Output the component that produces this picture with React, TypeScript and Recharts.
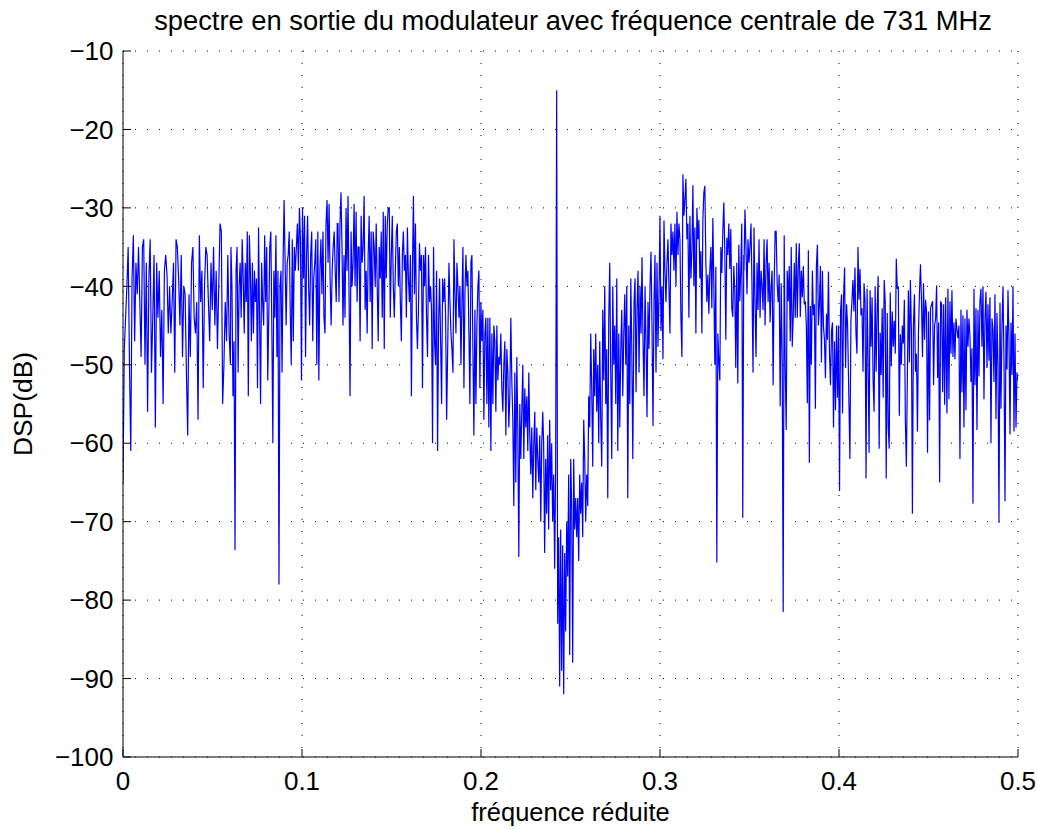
import React from 'react';
import { LineChart, Line, XAxis, YAxis, CartesianGrid } from 'recharts';

// Power spectral density (dB), in consecutive frequency bands.
const band1 = [-65, -48, -44, -40, -35, -50, -61, -39, -33.5, -47, -37, -41, -35, -42, -49, -35, -34, -50, -37, -56, -39, -34, -51, -44, -36, -58, -37, -44, -38, -49, -43, -55, -38, -36, -38.5, -46, -40, -46, -42, -37, -51, -34, -35, -39, -45, -36, -49, -40, -41, -51, -59, -41, -49, -37, -35, -44, -46, -42, -57, -33.5, -42, -38, -53, -40, -35, -36, -42, -47, -37, -43, -35, -45, -38, -48, -40, -32, -33, -55, -50, -42, -47, -36, -46, -50];
const band2 = [-35, -40, -54, -47, -73.6, -38, -35, -51, -40, -37, -44, -34, -39, -46, -37, -42, -33, -54, -33.5, -38, -47, -37, -46, -38, -42, -39, -53, -32.5, -44, -55, -37, -42, -45, -33.5, -42, -35, -52, -44, -35, -33, -45, -60, -38, -44, -33.5, -49, -38, -78, -40, -38, -51, -37, -29, -37, -45, -37, -36, -33, -43, -50, -34, -47, -35, -38, -35, -32, -38, -30, -34, -52, -30, -39, -31, -49, -36, -31, -40, -45, -36, -33, -47, -39, -37, -34, -50, -33, -52, -38, -34, -41, -33, -44, -46, -32, -29, -37, -29.5, -39, -45, -38, -35, -33, -38, -42, -32];
const band3 = [-32, -42, -32, -28, -35, -45, -36, -44, -30, -38, -28.5, -41, -54, -33, -40, -37, -29.5, -40, -30.5, -42, -35, -35, -47, -31, -37, -35, -28.5, -43, -38, -46, -36, -31, -42, -33, -48, -33, -35, -40, -32, -40, -47, -35, -39, -33, -44, -30.5, -48, -31, -39, -32, -30, -30, -44, -36, -31, -40, -44, -38, -33, -32, -40, -35, -42, -47, -36, -33, -38, -36, -44, -32.5, -39, -42, -36, -54, -38, -28.5, -41, -32, -44, -48, -43, -34.5, -38, -36, -53, -36, -40, -35, -44, -49, -36, -42, -40, -43, -60, -35, -47, -50, -38, -61, -45, -39, -47, -55, -39, -42, -39, -44, -57];
const band4 = [-37, -42, -46, -48, -51, -34, -41, -46, -37, -40, -44, -40, -50, -42, -35, -53, -41, -36, -40, -38, -46, -55, -37, -36, -48, -59, -43, -55, -45, -40, -38, -53, -42, -47, -43, -57, -46, -44, -55, -44, -58, -44, -61, -46, -55, -45, -47, -56, -45, -52, -49, -50, -46, -53, -56, -50, -47, -59, -48, -51, -58, -54, -44, -52, -57, -68, -51, -65, -49, -58, -74.5, -55, -62, -56, -50, -62, -53, -58, -54, -61, -51, -59, -64, -58, -67, -60, -56, -66, -58, -62, -65, -59, -70, -60, -56];
const band5 = [-60, -74, -62, -69, -59, -71, -57, -66, -60, -70, -64, -76, -63, -15, -83, -72, -91, -71, -89, -73, -92, -74, -84, -70, -77, -64, -87, -62, -68, -88, -62, -71, -67, -72, -67, -75, -64, -69, -65, -72, -57, -62, -70, -64, -68, -54, -58, -46, -53, -63, -48, -54, -46, -56, -50, -60, -47, -57, -63, -43, -52, -40, -55, -48, -67, -44, -37, -51, -62, -40, -50, -45, -55, -39, -61, -46, -58, -48, -43, -54, -46, -41, -50, -40, -67, -45, -55, -39, -48, -62];
const band6 = [-42, -39, -53.5, -43, -38, -51, -40, -46, -36.3, -47, -54, -40, -47, -56.7, -42, -48, -40, -35.6, -45, -57.8, -42, -36, -51, -37, -47.7, -41, -31, -45.7, -40, -49.3, -31.6, -38, -42, -37, -34, -40, -46, -32, -36, -33, -38, -32, -40, -30.5, -36, -32, -34, -44, -49, -25.7, -31, -29, -26.3, -34, -32, -44, -31, -39, -35.5, -27.1, -40, -32.5, -46, -30, -34, -31.5, -39, -35.5, -46, -31.5, -28, -27.2, -37, -42, -38.5, -43.5, -38, -35, -42.8, -31.3, -40, -50, -37.5, -75.2, -46, -49.5, -52, -35, -38.3, -33, -29.3, -35.6, -46.8, -33.8, -36, -32, -37.8, -32.7, -42.8, -43.9, -37.4, -40.5, -50.4, -37, -52.4, -34.7, -41.9, -38, -32, -69.5, -36];
const band7 = [-38, -30.2, -35, -41, -34, -37, -35, -32, -40, -51, -32.5, -42, -49, -37, -43, -34, -44, -38, -40, -43, -34, -45, -37, -34, -42, -37, -44.6, -40, -38, -52.6, -40, -33, -33, -39.6, -42, -38.5, -55.3, -39.6, -49.3, -81.5, -33.5, -50.4, -58.3, -38, -41.9, -37.4, -47, -35, -47.7, -43.7, -37, -44, -34.5, -44, -37.4, -34.5, -43.9, -38, -41.4, -37.4, -42.3, -41.9, -45, -54.9, -35.4, -62.5, -42.5, -50, -38, -43.7, -42.3, -55.6, -37.4, -34.7, -45, -42.3, -37.4, -49.7, -38, -45, -46.8, -51.7, -43.5, -46.8, -38.1, -48.4, -52.6, -45.7, -44.6, -58, -47, -55.8, -45, -54.2, -45, -66.1, -43.2, -41, -56.2, -41.4, -37.6, -50.4, -42.3, -45];
const band8 = [-62, -44.3, -41.9, -39.2, -43.2, -37.6, -45.9, -48.6, -35, -41.7, -37.8, -43.7, -42.8, -50.9, -39.6, -41.9, -64.5, -40.3, -49.3, -61.2, -40.5, -47.7, -41.4, -52, -56, -40, -50.9, -42.8, -38.7, -60.7, -45.9, -51.3, -42.8, -54.2, -39.2, -41.9, -64.5, -43.4, -58, -60.7, -40.8, -50.2, -43.2, -47.7, -44.4, -48.6, -36.5, -40.3, -40, -56.5, -46.1, -50, -45, -47.3, -41.7, -57.1, -63, -51.3, -40.5, -49.7, -39.2, -45.7, -69, -45, -41, -50.9, -48.6, -58.5, -45.9, -40.8, -37.2, -41.9, -49, -39.6, -46.8, -41.7, -43.2, -61.2, -43.2, -57.1, -42.8, -42.3, -41.9, -52.6, -45, -44.1, -39.9, -51.7, -44.6, -65, -41.9, -42.3, -53.5, -42.3, -55.1, -41.4];
const band9 = [-56.2, -40.3, -54.4, -41.9, -48.6, -40.5, -49, -44.6, -49.3, -44.1, -45.5, -46.6, -45, -62, -43, -53.5, -43.7, -58, -44.1, -55.8, -43, -47.7, -44.1, -46.4, -52.2, -47.9, -67.7, -40.3, -52.6, -42.8, -58.3, -43, -51.5, -41.9, -40.3, -47.7, -40, -54.4, -44.1, -40.7, -50.4, -42.3, -49.5, -41.4, -60, -44.1, -45.5, -52.2, -41, -56.9, -43.4, -50.4, -70.1, -42.1, -55.6, -45, -40, -49.5, -67.4, -45, -50.6, -40.5, -46.8, -58.9, -44.6, -51.3, -40, -58.5, -46, -58, -51, -52];

// Reduced-frequency span covered by each band.
const bandStart = [0, 0.0603, 0.1201, 0.1821, 0.235, 0.2855, 0.3469, 0.4061, 0.4603];
const bandEnd = [0.06, 0.1197, 0.1808, 0.2345, 0.2848, 0.3468, 0.4048, 0.4596, 0.5];
const bands = [band1, band2, band3, band4, band5, band6, band7, band8, band9];

const xTicks = [0, 0.1, 0.2, 0.3, 0.4, 0.5];
const xTickLabels = ['0', '0.1', '0.2', '0.3', '0.4', '0.5'];
const yTicks = [-100, -90, -80, -70, -60, -50, -40, -30, -20, -10];

const title = 'spectre en sortie du modulateur avec fréquence centrale de 731 MHz';
const xLabel = 'fréquence réduite';
const yLabel = 'DSP(dB)';

const data = bands.flatMap((vals, b) =>
  vals.map((v, i) => ({
    f: bandStart[b] + ((bandEnd[b] - bandStart[b]) * i) / (vals.length - 1),
    dsp: v,
  }))
);

const FONT = '"Liberation Sans", Arial, Helvetica, sans-serif';
const tickStyle = { fill: '#000', fontSize: 26, fontFamily: FONT };
const fmtY = (v: number) => (v < 0 ? '\u2212' + Math.abs(v) : String(v));
const fmtX = (v: number) => {
  const i = xTicks.indexOf(v);
  return i >= 0 ? xTickLabels[i] : String(v);
};

export default function App() {
  const W = 1037;
  const H = 829;
  return (
    <div style={{ position: 'absolute', left: 0, top: 0, width: W, height: H, background: '#fff' }}>
      <LineChart width={W} height={H} data={data} margin={{ top: 51, right: 19, bottom: 0, left: 0 }}>
        <CartesianGrid stroke="#000" strokeWidth={1} strokeDasharray="1 11" />
        <XAxis
          dataKey="f"
          type="number"
          domain={[0, 0.5]}
          ticks={xTicks}
          interval={0}
          allowDataOverflow
          height={72}
          tickSize={-8}
          tickMargin={23}
          stroke="#000"
          tick={tickStyle}
          tickFormatter={fmtX}
        />
        <XAxis
          xAxisId="top"
          orientation="top"
          dataKey="f"
          type="number"
          domain={[0, 0.5]}
          ticks={xTicks}
          interval={0}
          allowDataOverflow
          height={0}
          tickSize={-8}
          stroke="#000"
          tick={false}
        />
        <YAxis
          type="number"
          domain={[-100, -10]}
          ticks={yTicks}
          interval={0}
          allowDataOverflow
          width={123}
          tickSize={-8}
          tickMargin={17.5}
          stroke="#000"
          tick={tickStyle}
          tickFormatter={fmtY}
        />
        <YAxis
          yAxisId="right"
          orientation="right"
          type="number"
          domain={[-100, -10]}
          ticks={yTicks}
          interval={0}
          allowDataOverflow
          width={0}
          tickSize={-8}
          stroke="#000"
          tick={false}
        />
        <Line
          dataKey="dsp"
          type="linear"
          stroke="#0000ff"
          strokeWidth={1.2}
          dot={false}
          activeDot={false}
          isAnimationActive={false}
        />
      </LineChart>
      <svg
        width={W}
        height={H}
        style={{ position: 'absolute', left: 0, top: 0, pointerEvents: 'none' }}
      >
        <text x={573} y={30} textAnchor="middle" fontFamily={FONT} fontSize={27.3} fill="#000">
          {title}
        </text>
        <text x={570.5} y={821} textAnchor="middle" fontFamily={FONT} fontSize={25.5} fill="#000">
          {xLabel}
        </text>
        <text
          x={0}
          y={0}
          transform="translate(32 404) rotate(-90)"
          textAnchor="middle"
          fontFamily={FONT}
          fontSize={26.4}
          fill="#000"
        >
          {yLabel}
        </text>
      </svg>
    </div>
  );
}
